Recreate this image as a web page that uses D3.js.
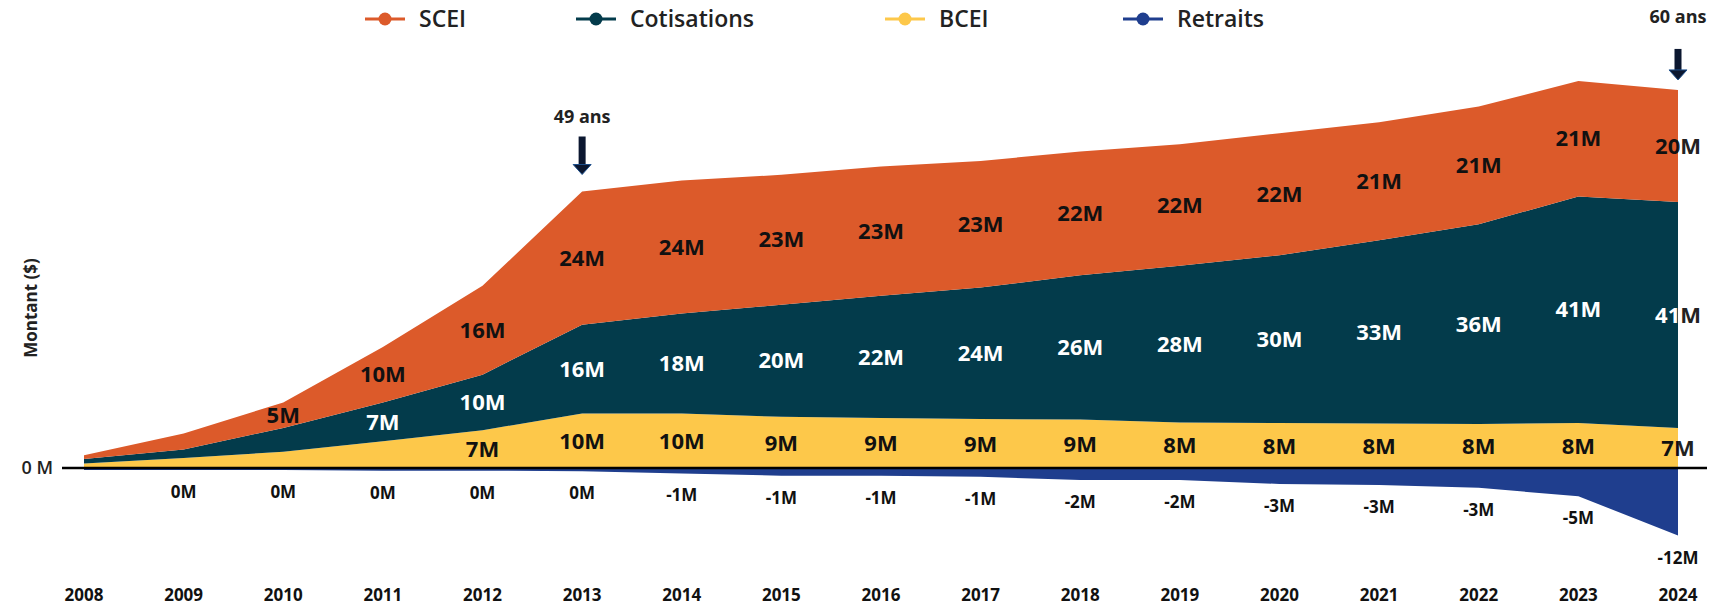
<!DOCTYPE html>
<html>
<head>
<meta charset="utf-8">
<script src="https://cdn.jsdelivr.net/npm/d3@7"></script>
<style>
  body { margin: 0; background: #fff; }
  svg { display: block; font-family: "Open Sans", "Noto Sans", sans-serif; }
</style>
</head>
<body>
<svg id="chart" width="1723" height="608"></svg>
<script>
// values in millions of $
const years = ["2008", "2009", "2010", "2011", "2012", "2013", "2014", "2015", "2016",
  "2017", "2018", "2019", "2020", "2021", "2022", "2023", "2024"];
const scei = [0.7, 2.9, 4.6, 10, 16, 24, 24, 23.4, 23.3, 22.8, 22.3, 21.9, 22, 21.3, 21.2, 20.8, 20.2];
const cotisations = [0.8, 1.5, 4.3, 7, 10, 16, 18, 20.2, 22, 23.7, 26, 28.2, 30.2, 33, 36, 40.8, 40.7];
const bcei = [1, 2, 3.1, 5, 7, 10, 10, 9.4, 9.2, 9, 8.9, 8.4, 8.3, 8.2, 8.1, 8.3, 7.4];
const retraits = [-0.2, -0.2, -0.2, -0.3, -0.3, -0.4, -0.8, -1.2, -1.2, -1.4, -2, -2, -2.7, -2.9, -3.4, -4.9, -12];

const seriesNames = ["SCEI", "Cotisations", "BCEI", "Retraits"];
const colors = ["#dc5a2a", "#033b4b", "#fdc84a", "#1f3e8e"];
const labelColors = ["#111", "#fff", "#111", "#111"];
// first year that carries a data label, per series
const labelFrom = ["2010", "2011", "2012", "2009"];

// age markers (gap = space between arrow tip and the top of the area)
const markers = [
  { year: "2013", text: "49 ans", gap: 17, textUp: 58, shaft: 29 },
  { year: "2024", text: "60 ans", gap: 10, textUp: 63, shaft: 22 },
];

const rows = years.map((y, i) => ({
  year: y,
  SCEI: scei[i],
  Cotisations: cotisations[i],
  BCEI: bcei[i],
  Retraits: retraits[i],
}));

const svg = d3.select("#chart");
const W = +svg.attr("width");
const H = +svg.attr("height");

const x = d3.scalePoint().domain(years).range([84, 1678]);
const y = d3.scaleLinear().domain([-15, 75]).range([552.25, 52.75]);

const color = d3.scaleOrdinal().domain(seriesNames).range(colors);

// stack: BCEI at the bottom, then Cotisations, then SCEI; Retraits goes down
const stackKeys = ["BCEI", "Cotisations", "SCEI", "Retraits"];
const stacked = d3.stack()
  .keys(stackKeys)
  .offset(d3.stackOffsetDiverging)(rows);

const area = d3.area()
  .x((d) => x(d.data.year))
  .y0((d) => y(d[0]))
  .y1((d) => y(d[1]));

svg.append("g")
  .selectAll("path")
  .data(stacked)
  .join("path")
  .attr("d", area)
  .attr("fill", (d) => color(d.key));

// clip regions so labels sitting on the right edge change colour outside the area
const xEnd = x(years[years.length - 1]);
const defs = svg.append("defs");
defs.append("clipPath").attr("id", "inside")
  .append("rect").attr("x", 0).attr("y", 0).attr("width", xEnd).attr("height", H);
defs.append("clipPath").attr("id", "outside")
  .append("rect").attr("x", xEnd).attr("y", 0).attr("width", W - xEnd).attr("height", H);

// zero line with its single tick label
svg.append("line")
  .attr("x1", 62)
  .attr("x2", 1707)
  .attr("y1", y(0) - 1)
  .attr("y2", y(0) - 1)
  .attr("stroke", "#000")
  .attr("stroke-width", 2.5);

svg.append("text")
  .attr("x", 53)
  .attr("y", y(0) - 1)
  .attr("dy", "0.35em")
  .attr("text-anchor", "end")
  .style("font-size", "18px")
  .style("font-weight", "600")
  .style("fill", "#222")
  .text("0 M");

// axis title
svg.append("text")
  .attr("transform", `translate(31, ${y(29)}) rotate(-90)`)
  .attr("text-anchor", "middle")
  .attr("dy", "0.35em")
  .style("font-size", "17px")
  .style("font-weight", "700")
  .style("fill", "#222")
  .text("Montant ($)");

// year labels
svg.append("g")
  .selectAll("text")
  .data(years)
  .join("text")
  .attr("x", (d) => x(d))
  .attr("y", 595)
  .attr("dy", "0.35em")
  .attr("text-anchor", "middle")
  .style("font-size", "17px")
  .style("font-weight", "700")
  .style("fill", "#111")
  .text((d) => d);

// data labels
const fmt = (v) => Math.round(v) + "M";
stacked.forEach((layer) => {
  const si = seriesNames.indexOf(layer.key);
  const pts = layer.filter((d) => +d.data.year >= +labelFrom[si]);
  const neg = layer.key === "Retraits";
  const passes = neg
    ? [{ clip: null, fill: labelColors[si] }]
    : [{ clip: "url(#inside)", fill: labelColors[si] }, { clip: "url(#outside)", fill: "#222" }];
  passes.forEach((p) => {
    svg.append("g")
      .attr("clip-path", p.clip)
      .selectAll("text")
      .data(pts)
      .join("text")
      .attr("x", (d) => x(d.data.year))
      .attr("y", (d) => (neg ? y(d[0]) + 22 : y((d[0] + d[1]) / 2)))
      .attr("dy", "0.35em")
      .attr("text-anchor", "middle")
      .style("font-size", neg ? "17px" : "22px")
      .style("font-weight", "700")
      .style("fill", p.fill)
      .text((d) => fmt(d.data[layer.key]));
  });
});

// age annotations with arrows
const totalOf = (yr) => {
  const r = rows.find((d) => d.year === yr);
  return r.SCEI + r.Cotisations + r.BCEI;
};
markers.forEach((m) => {
  const cx = x(m.year);
  const tip = y(totalOf(m.year)) - m.gap;
  const g = svg.append("g");
  g.append("rect")
    .attr("x", cx - 3.5)
    .attr("y", tip - 9 - m.shaft)
    .attr("width", 7)
    .attr("height", m.shaft)
    .attr("fill", "#0b1730");
  g.append("path")
    .attr("d", `M${cx - 9},${tip - 10} L${cx + 9},${tip - 10} L${cx},${tip} Z`)
    .attr("fill", "#0b1730")
    .attr("stroke", "#1d4f8c")
    .attr("stroke-width", 1);
  g.append("text")
    .attr("x", cx)
    .attr("y", tip - m.textUp)
    .attr("dy", "0.35em")
    .attr("text-anchor", "middle")
    .style("font-size", "18px")
    .style("font-weight", "700")
    .style("fill", "#222")
    .text(m.text);
});

// legend
const legendX = [385, 596, 905, 1143];
const legend = svg.append("g")
  .selectAll("g")
  .data(seriesNames)
  .join("g")
  .attr("transform", (d, i) => `translate(${legendX[i]}, 19)`);

legend.append("line")
  .attr("x1", -20)
  .attr("x2", 20)
  .attr("stroke", (d) => color(d))
  .attr("stroke-width", 3);

legend.append("circle")
  .attr("r", 6.5)
  .attr("fill", (d) => color(d));

legend.append("text")
  .attr("x", 34)
  .attr("dy", "0.35em")
  .style("font-size", "23px")
  .style("font-weight", "600")
  .style("fill", "#222")
  .text((d) => d);
</script>
</body>
</html>
